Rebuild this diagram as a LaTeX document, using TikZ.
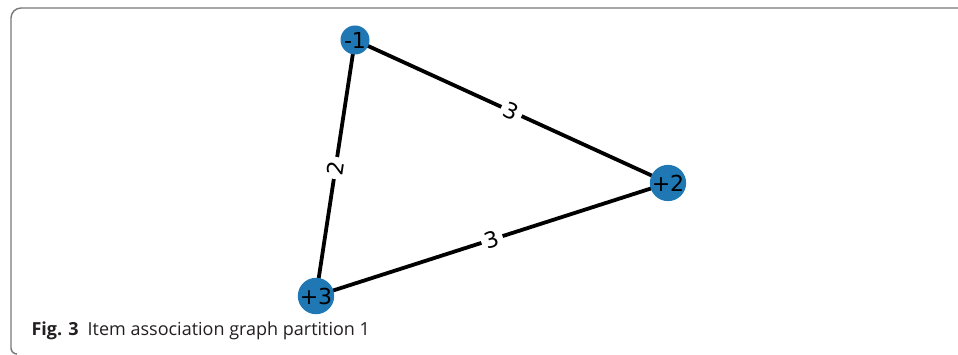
\documentclass[tikz,border=0pt]{standalone}
\usepackage{fontspec}
\usepackage{xcolor}
\usepackage{tikz}
\usetikzlibrary{positioning, backgrounds}
\setmainfont{Open Sans}
\newfontfamily\graphfont{DejaVu Sans}
\definecolor{mpblue}{RGB}{31,119,180}
\definecolor{frgray}{RGB}{120,120,120}
\definecolor{captext}{RGB}{35,31,32}
\tikzset{
  vertex/.style={circle, fill=mpblue, minimum size=29pt, inner sep=0pt,
    font=\graphfont\fontsize{22}{22}\selectfont},
  edgeline/.style={line width=3.8pt, color=black},
  weight/.style={fill=white, sloped, inner sep=4pt,
    font=\graphfont\fontsize{22}{22}\selectfont},
  frame/.style={line width=1.4pt, color=frgray},
  caption/.style={font=\fontsize{18}{21}\selectfont, color=captext, anchor=base west}
}

\begin{document}
\begin{tikzpicture}[x=1pt, y=1pt]
  \useasboundingbox (0,0) rectangle (958,354);
  % figure frame
  \draw[frame] (17,0) arc (-90:-180:6) -- (11,336) arc (180:90:10) -- (958,346);

  \node[vertex] (m1) at (355,314) {-1};
  \node[vertex] (p2) at (668,171) {+2};
  \node[vertex] (p3) at (316,58)  {+3};

  \begin{scope}[on background layer]
  \draw[edgeline] (m1.center) -- node[weight] {3} (p2.center);
  \draw[edgeline] (m1.center) -- node[weight] {2} (p3.center);
  \draw[edgeline] (p2.center) -- node[weight] {3} (p3.center);
  \end{scope}

  \node[caption] (cap) at (28,19) {\textbf{Fig. 3}\enspace Item association graph partition 1};
\end{tikzpicture}
\end{document}
